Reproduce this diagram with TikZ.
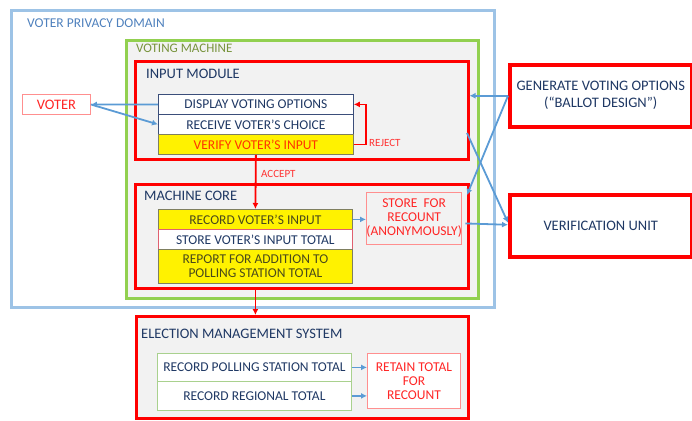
\documentclass[tikz,border=0pt]{standalone}
\usepackage{fontspec}
\setmainfont{Carlito}
\usetikzlibrary{arrows.meta}

\definecolor{domainblue}{HTML}{9DC3E6}
\definecolor{domaintext}{HTML}{4F81BD}
\definecolor{machinegreen}{HTML}{92D050}
\definecolor{machinetext}{HTML}{77933C}
\definecolor{panelgray}{HTML}{F2F2F2}
\definecolor{navy}{HTML}{1F3864}
\definecolor{slateline}{HTML}{3B4E7A}
\definecolor{arrowblue}{HTML}{5B9BD5}
\definecolor{softred}{HTML}{FF8F8F}
\definecolor{pinkline}{HTML}{E06070}
\definecolor{lightgreen}{HTML}{A9D18E}
\definecolor{olivetext}{HTML}{4A4A1A}
\definecolor{oliveline}{HTML}{7F7F5F}
\definecolor{orangered}{HTML}{FF3300}

\tikzset{
  frame/.style={draw, rectangle, anchor=north west, inner sep=0pt},
  item/.style={draw, rectangle, anchor=north west, inner sep=0pt, align=center,
    font=\fontsize{13.5}{14}\selectfont},
  title/.style={anchor=west, inner sep=0pt, font=\fontsize{14.5}{16}\selectfont, text=navy},
  plainitem/.style={item, fill=white, draw=slateline, line width=0.8pt, text=navy},
  yellowitem/.style={item, fill=yellow, draw=oliveline, line width=0.8pt, text=olivetext},
  greenitem/.style={item, fill=white, draw=lightgreen, line width=0.8pt, text=navy},
  softbox/.style={item, draw=softred, line width=0.9pt, text=red!85!white},
  bigbox/.style={item, fill=white, draw=red, line width=3.5pt, text=navy,
    font=\fontsize{14.5}{17}\selectfont},
  barrow/.style={draw=arrowblue, line width=1.8pt, -{Latex[length=6pt,width=6pt]}},
  rarrow/.style={draw=red, line width=1.8pt, -{Latex[length=6pt,width=6pt]}},
  tag/.style={anchor=west, inner sep=0pt, text=red!80!white, font=\fontsize{11}{12}\selectfont}
}

\begin{document}
\begin{tikzpicture}[x=1pt,y=-1pt]
\useasboundingbox (0,0) rectangle (692,420);

% domain, machine and module frames
\node[frame, draw=domainblue, line width=3pt, minimum width=483pt, minimum height=297pt] (domain) at (10,9) {};
\node[title, text=domaintext, font=\fontsize{13.5}{15}\selectfont] (domainlbl) at (27,23) {VOTER PRIVACY DOMAIN};

\node[frame, draw=machinegreen, fill=panelgray, line width=3pt, minimum width=352pt, minimum height=258pt] (machine) at (125,39) {};
\node[title, text=machinetext, font=\fontsize{13}{15}\selectfont] (machinelbl) at (136,48) {VOTING MACHINE};

\node[frame, draw=red, line width=2.5pt, minimum width=333pt, minimum height=98pt] (inmod) at (134,60) {};
\node[title] (inmodlbl) at (146,74) {INPUT MODULE};

\node[frame, draw=red, line width=2.5pt, minimum width=333pt, minimum height=104pt] (core) at (134,183) {};
\node[title] (corelbl) at (144,196) {MACHINE CORE};

\node[frame, draw=red, fill=panelgray, line width=3pt, minimum width=332pt, minimum height=102pt] (ems) at (135,315) {};
\node[title] (emslbl) at (141,334) {ELECTION MANAGEMENT SYSTEM};

% voter
\node[softbox, fill=white, minimum width=68pt, minimum height=20pt, font=\fontsize{14.5}{16}\selectfont] (voter) at (22,94) {VOTER};

% input module items
\node[plainitem, minimum width=195pt, minimum height=20pt] (display) at (158,94) {DISPLAY VOTING OPTIONS};
\node[plainitem, minimum width=195pt, minimum height=20pt] (receive) at (158,114) {RECEIVE VOTER'S CHOICE};
\node[yellowitem, minimum width=195pt, minimum height=20pt, text=orangered] (verify) at (158,134) {VERIFY VOTER'S INPUT};

% machine core items
\node[yellowitem, minimum width=194pt, minimum height=20pt] (recin) at (158,209) {RECORD VOTER'S INPUT};
\node[item, fill=white, draw=pinkline, line width=0.8pt, text=navy, minimum width=194pt, minimum height=20pt] (storetot) at (158,229) {STORE VOTER'S INPUT TOTAL};
\node[yellowitem, minimum width=194pt, minimum height=34pt] (report) at (158,249) {REPORT FOR ADDITION TO\\POLLING STATION TOTAL};
\node[softbox, fill=panelgray, minimum width=94pt, minimum height=52pt] (recount) at (366,192) {STORE~~FOR\\RECOUNT\\(ANONYMOUSLY)};

% election management items
\node[greenitem, minimum width=194pt, minimum height=28pt] (poll) at (157,353) {RECORD POLLING STATION TOTAL};
\node[greenitem, minimum width=194pt, minimum height=29pt] (region) at (157,381) {RECORD REGIONAL TOTAL};
\node[softbox, fill=white, minimum width=93pt, minimum height=55pt] (retain) at (367,353) {RETAIN TOTAL\\FOR\\RECOUNT};

% external units
\node[bigbox, minimum width=182pt, minimum height=62pt] (gen) at (508,63) {GENERATE VOTING OPTIONS\\(“BALLOT DESIGN”)};
\node[bigbox, minimum width=182pt, minimum height=62pt] (ver) at (508,193) {VERIFICATION UNIT};

% connector end points on the module frames
\coordinate (coreIn) at (467,195);
\coordinate (inOut) at (467,133);

% voter interaction
\draw[barrow] (display.west) -- (voter.east);
\draw[barrow] (voter.east) -- (receive.west);

% verification loop
\draw[rarrow] (verify.east) -- ++(12,0) |- (display.east);
\node[tag] (rejectlbl) at (369,143) {REJECT};
\draw[rarrow] (verify.south) -- (recin.north);
\node[tag] (acceptlbl) at (261,174) {ACCEPT};

% machine core flows
\draw[barrow] (recin.east) -- (recin.east -| recount.west);
\draw[rarrow] (report.south |- core.south) -- (report.south |- ems.north);

% ballot design and verification links
\draw[barrow] (gen.west) -- (gen.west -| inmod.east);
\draw[barrow] (gen.west) -- (coreIn);
\draw[barrow] (inOut) -- ([yshift=3pt]ver.west);
\draw[barrow] ([xshift=3pt,yshift=-5pt]recount.east) -- ([yshift=1pt]ver.west);

% election management flows
\draw[barrow] (poll.east) -- (poll.east -| retain.west);
\draw[barrow] (region.east) -- (region.east -| retain.west);
\end{tikzpicture}
\end{document}
